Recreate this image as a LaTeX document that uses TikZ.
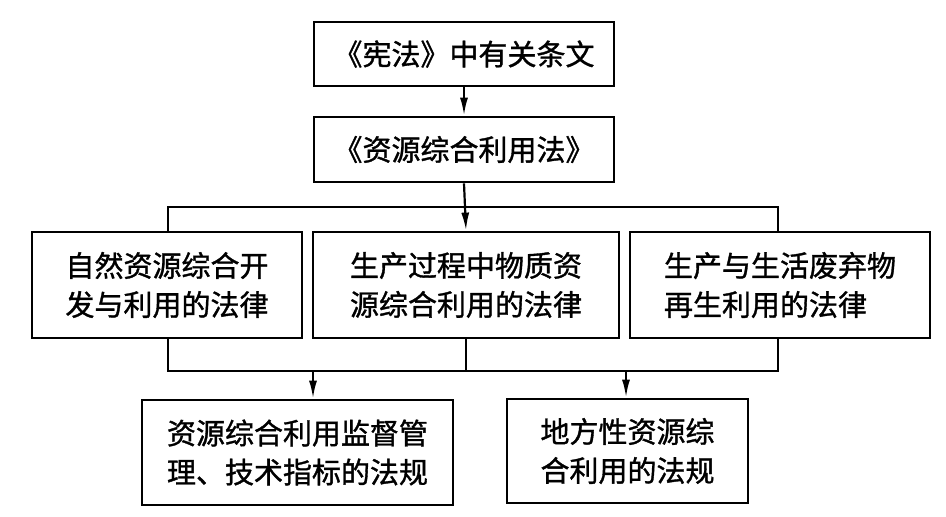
\documentclass[tikz,border=0pt]{standalone}
\usepackage{fontspec}
\setmainfont{Noto Sans CJK SC}
\newfontfamily\cjkbold{Noto Sans CJK SC}[FakeBold=1.2]
\usetikzlibrary{arrows.meta}
\tikzset{
  box/.style={draw, line width=2.8pt, inner sep=0pt, align=left, font=\cjkbold\fontsize{29pt}{39pt}\selectfont},
  conn/.style={line width=2.2pt},
  arr/.style={line width=2.2pt, -{Latex[length=18pt,width=8pt]}}
}
\begin{document}
\begin{tikzpicture}[x=1pt,y=1pt]
\useasboundingbox (0,0) rectangle (946,-517);
\node[box, minimum width=300pt, minimum height=64pt] (b1) at (464,-54) {《宪法》中有关条文};
\node[box, minimum width=300pt, minimum height=65pt] (b2) at (464,-149.5) {《资源综合利用法》};
\node[box, minimum width=270pt, minimum height=106pt] (bA) at (167,-285) {自然资源综合开\\发与利用的法律};
\node[box, minimum width=306pt, minimum height=106pt] (bB) at (466,-285) {生产过程中物质资\\源综合利用的法律};
\node[box, minimum width=300pt, minimum height=106pt] (bC) at (780,-285) {生产与生活废弃物\\再生利用的法律};
\node[box, minimum width=311pt, minimum height=105pt] (bD) at (297.5,-452.5) {资源综合利用监督管\\理、技术指标的法规};
\node[box, minimum width=241pt, minimum height=104pt] (bE) at (627.5,-451) {地方性资源综\\合利用的法规};
\coordinate (tL) at (168,-207);
\coordinate (tR) at (778,-207);
\coordinate (lL) at (168,-371);
\coordinate (lR) at (778,-371);
\coordinate (jD) at (313,-371);
\coordinate (jE) at (626,-371);
\draw[arr] (b1.south) -- (b2.north);
\draw[arr] (b2.south) -- (bB.north);
\draw[conn] (tL |- bA.north) -- (tL) -- (tR) -- (tR |- bC.north);
\draw[conn] (lL |- bA.south) -- (lL) -- (lR) -- (lR |- bC.south);
\draw[conn] (bB.south) -- (bB.south |- lL);
\draw[arr] (jD) -- (jD |- bD.north);
\draw[arr] (jE) -- (jE |- bE.north);
\end{tikzpicture}
\end{document}
